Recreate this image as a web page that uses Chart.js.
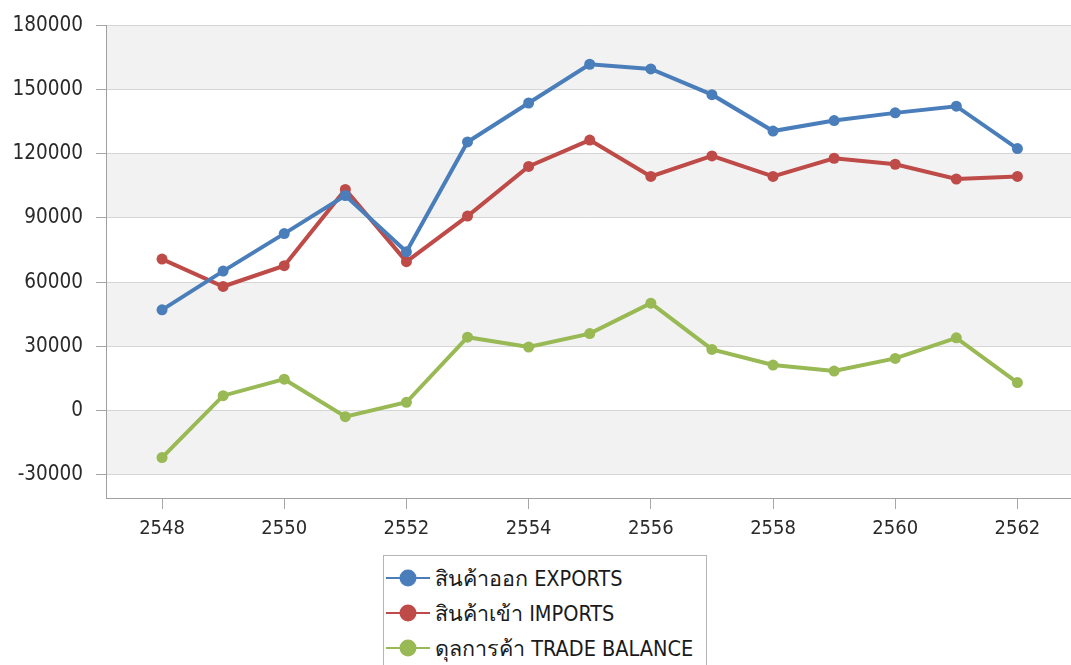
<!DOCTYPE html>
<html>
<head>
<meta charset="utf-8">
<script src="https://cdn.jsdelivr.net/npm/chart.js@4.4.0/dist/chart.umd.min.js"></script>
<style>
  html, body { margin: 0; padding: 0; background: #fff; }
  #wrap { position: relative; width: 1071px; height: 665px; overflow: hidden; }
  #chart { position: absolute; left: 0; top: 0; }
  #legend {
    position: absolute; left: 383px; top: 555px; width: 324px; height: 130px;
    border: 1px solid #b5b5b5; background: #fff; box-sizing: border-box;
    font-family: 'DejaVu Sans Condensed', 'Liberation Sans', sans-serif; font-size: 21.5px; color: #1a1a1a;
  }
  .item { position: absolute; left: 0; height: 30px; display: flex; align-items: center; white-space: nowrap; }
  .item svg { margin-left: 2px; margin-right: 5px; }
</style>
</head>
<body>
<div id="wrap">
  <canvas id="chart" width="1077" height="545"></canvas>
  <div id="legend"></div>
</div>
<script>
// ---------- Data ----------
const YEARS = [2548, 2549, 2550, 2551, 2552, 2553, 2554, 2555, 2556, 2557, 2558, 2559, 2560, 2561, 2562];
const EXPORTS = [47100, 65200, 82700, 100500, 74200, 125500, 143700, 161800, 159600, 147600, 130600, 135500, 139100, 142200, 122400];
const IMPORTS = [70800, 58000, 67700, 103300, 69600, 90900, 114100, 126400, 109400, 119000, 109400, 117900, 115100, 108200, 109400];
const BALANCE = [-21900, 7000, 14700, -2800, 3900, 34300, 29700, 36000, 50200, 28600, 21300, 18500, 24400, 34000, 13100];
const SERIES_LABELS = ['สินค้าออก EXPORTS', 'สินค้าเข้า IMPORTS', 'ดุลการค้า TRADE BALANCE'];
const SERIES_COLORS = ['#4a7ebb', '#be4b48', '#98b954'];
const Y_TICKS = [-30000, 0, 30000, 60000, 90000, 120000, 150000, 180000];

const FONT = "'DejaVu Sans Condensed', 'Liberation Sans', sans-serif";
const toPoints = (vals) => vals.map((v, i) => ({ x: YEARS[i], y: v }));

// alternating grey bands between gridlines
const bandPlugin = {
  id: 'bands',
  beforeDraw(chart) {
    const { ctx, chartArea, scales: { y } } = chart;
    ctx.save();
    ctx.fillStyle = '#f2f2f2';
    for (let i = Y_TICKS.length - 1; i > 0; i -= 2) {
      const top = y.getPixelForValue(Y_TICKS[i]);
      const bot = y.getPixelForValue(Y_TICKS[i - 1]);
      ctx.fillRect(chartArea.left, top, chartArea.right - chartArea.left, bot - top);
    }
    ctx.restore();
  }
};

const datasets = [EXPORTS, IMPORTS, BALANCE].map((vals, i) => ({
  label: SERIES_LABELS[i],
  data: toPoints(vals),
  borderColor: SERIES_COLORS[i],
  backgroundColor: SERIES_COLORS[i],
  borderWidth: 4,
  pointRadius: 5.5,
  pointBorderWidth: 0,
  tension: 0
}));

const chart = new Chart(document.getElementById('chart'), {
  type: 'line',
  data: { datasets },
  plugins: [bandPlugin],
  options: {
    responsive: false,
    animation: false,
    layout: { padding: { top: 22, right: 0, left: 0, bottom: 0 } },
    plugins: { legend: { display: false }, tooltip: { enabled: false } },
    scales: {
      x: {
        type: 'linear',
        min: 2547.083,
        max: 2562.885,
        afterFit: (s) => { s.height = 47; },
        border: { color: '#a0a0a0', width: 1 },
        grid: { drawOnChartArea: false, drawTicks: true, tickLength: 11, tickColor: '#a6a6a6' },
        ticks: {
          stepSize: 2, includeBounds: false, padding: 8,
          color: '#2a2a2a', font: { family: FONT, size: 20 },
          callback: (v) => String(v)
        }
      },
      y: {
        min: -40800,
        max: 180000,
        afterFit: (s) => { s.width = 106; },
        afterBuildTicks: (s) => { s.ticks = Y_TICKS.map(v => ({ value: v })); },
        border: { color: '#a0a0a0', width: 1 },
        grid: { color: '#d6d6d6', tickLength: 10, tickColor: '#a6a6a6' },
        ticks: {
          padding: 13, color: '#2a2a2a', font: { family: FONT, size: 20.5 },
          callback: (v) => String(v)
        }
      }
    }
  }
});

// ---------- HTML legend ----------
const legendEl = document.getElementById('legend');
chart.data.datasets.forEach((ds, i) => {
  const item = document.createElement('div');
  item.className = 'item';
  item.style.top = (7 + i * 35) + 'px';
  item.innerHTML = `<svg width="44" height="20"><line x1="0" y1="10" x2="44" y2="10" stroke="${ds.borderColor}" stroke-width="2"/><circle cx="22" cy="10" r="8.5" fill="${ds.borderColor}"/></svg><span>${ds.label}</span>`;
  legendEl.appendChild(item);
});
</script>
</body>
</html>
